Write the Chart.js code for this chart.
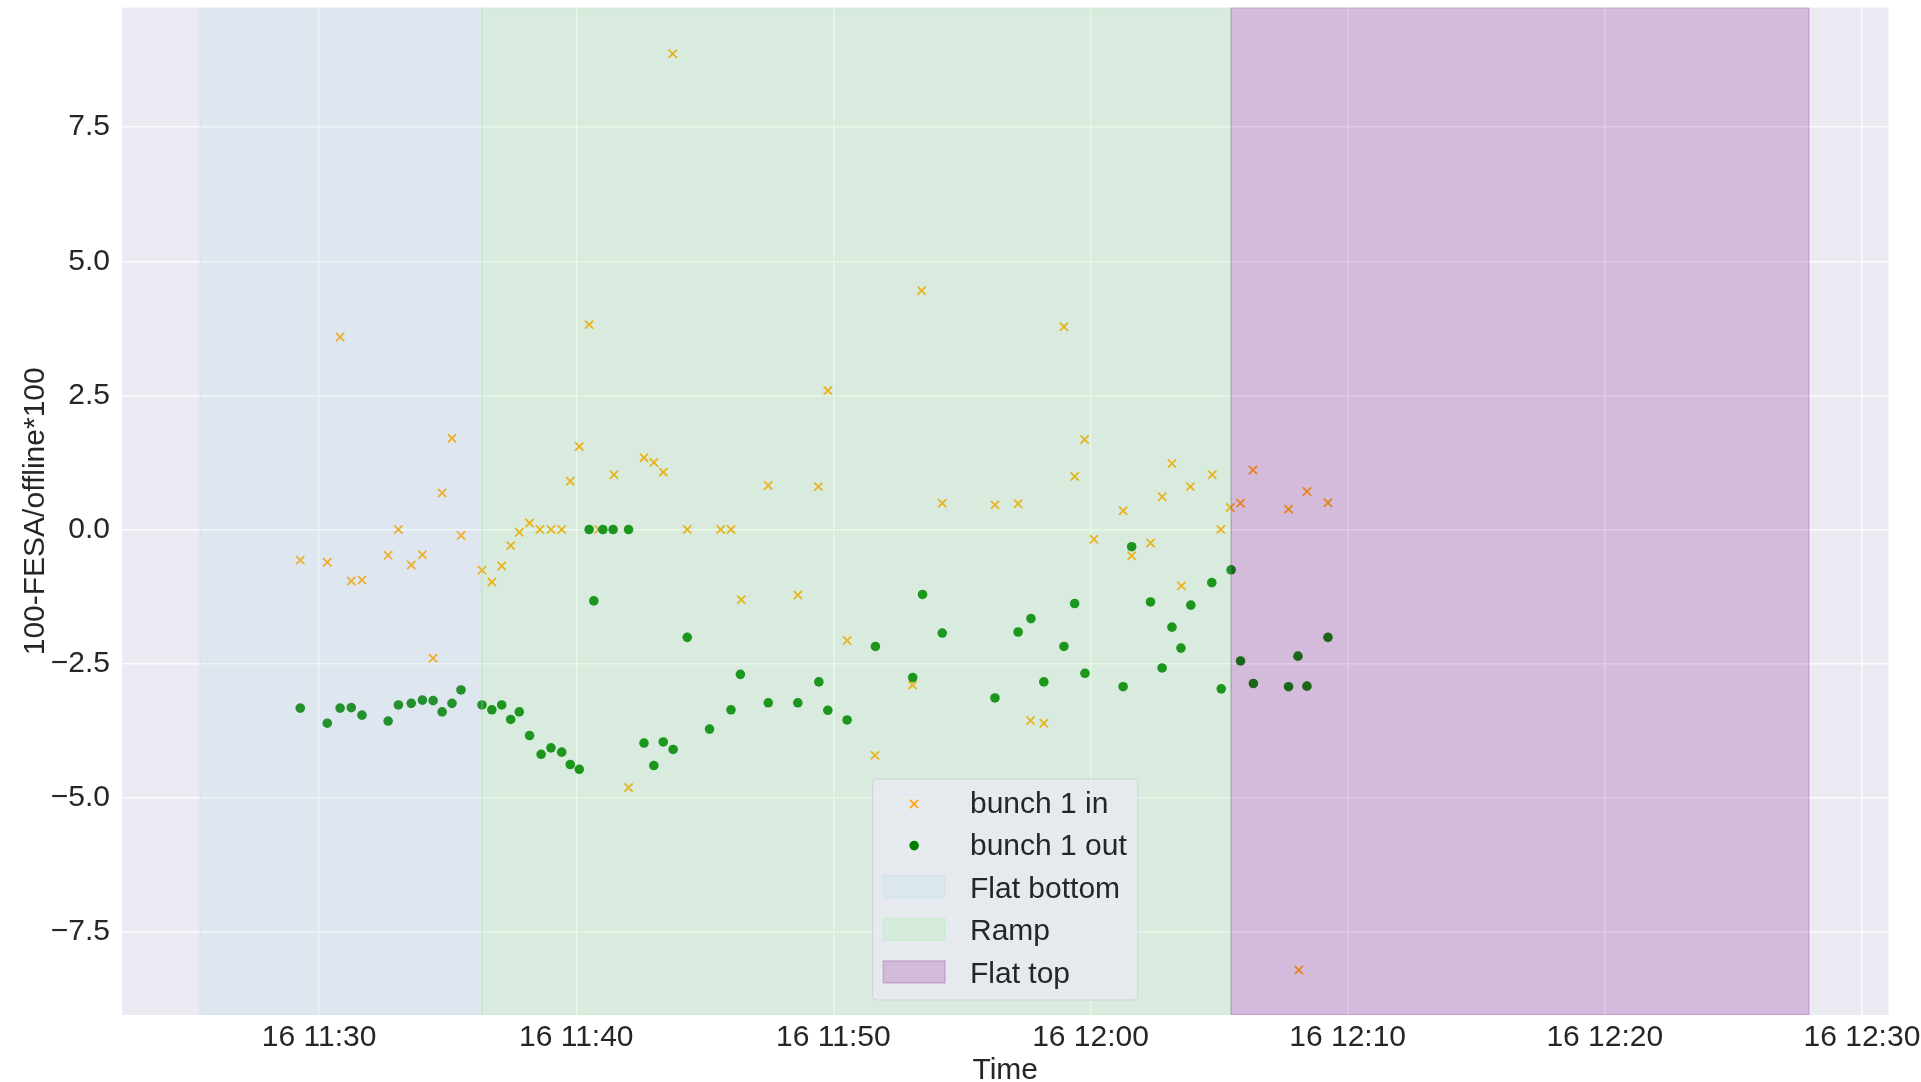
<!DOCTYPE html>
<html>
<head>
<meta charset="utf-8">
<title>100-FESA/offline*100</title>
<script src="https://cdn.jsdelivr.net/npm/chart.js@4/dist/chart.umd.min.js"></script>
<style>
  html, body { margin: 0; padding: 0; background: #ffffff; }
  canvas { display: block; }
</style>
</head>
<body>
<canvas id="chart" width="1921" height="1082"></canvas>
<script>
// ---- data -------------------------------------------------------------
const inTimes = [
  '11:29:16','11:30:19','11:30:49','11:31:15','11:31:40','11:32:41','11:33:05','11:33:35',
  '11:34:01','11:34:26','11:34:47','11:35:10','11:35:31','11:36:20','11:36:43','11:37:06',
  '11:37:27','11:37:47','11:38:11','11:38:35','11:39:01','11:39:26','11:39:46','11:40:07',
  '11:40:30','11:40:52','11:41:28','11:42:02','11:42:38','11:43:01','11:43:23','11:43:45',
  '11:44:19','11:45:37','11:46:01','11:46:25','11:47:28','11:48:37','11:49:25','11:49:47',
  '11:50:32','11:51:37','11:53:05','11:53:26','11:54:14','11:56:17','11:57:11','11:57:40',
  '11:58:11','11:58:58','11:59:23','11:59:46','12:00:08','12:01:16','12:01:36','12:02:20',
  '12:02:47','12:03:10','12:03:32','12:03:53','12:04:44','12:05:04','12:05:26','12:05:50',
  '12:06:19','12:07:42','12:08:06','12:08:25','12:09:14'
];
const inValues = [
  -0.57, -0.61, 3.59, -0.96, -0.94, -0.48, 0.00, -0.66,
  -0.47, -2.40, 0.68, 1.70, -0.11, -0.76, -0.98, -0.68,
  -0.30, -0.05, 0.12, 0.00, 0.00, 0.00, 0.90, 1.55,
  3.82, 0.00, 1.02, -4.81, 1.34, 1.25, 1.07, 8.87,
  0.00, 0.00, 0.00, -1.31, 0.82, -1.22, 0.80, 2.59,
  -2.07, -4.21, -2.90, 4.45, 0.49, 0.46, 0.48, -3.56,
  -3.61, 3.78, 0.99, 1.68, -0.18, 0.35, -0.49, -0.25,
  0.61, 1.23, -1.05, 0.80, 1.02, 0.00, 0.41, 0.49,
  1.11, 0.38, -8.21, 0.71, 0.50
];

const outTimes = [
  '11:29:16','11:30:19','11:30:49','11:31:15','11:31:40','11:32:41','11:33:05','11:33:35',
  '11:34:01','11:34:26','11:34:47','11:35:10','11:35:31','11:36:20','11:36:43','11:37:06',
  '11:37:27','11:37:47','11:38:11','11:38:38','11:39:01','11:39:26','11:39:46','11:40:07',
  '11:40:30','11:40:41','11:41:02','11:41:26','11:42:02','11:42:38','11:43:01','11:43:23',
  '11:43:46','11:44:19','11:45:11','11:46:01','11:46:23','11:47:28','11:48:37','11:49:26',
  '11:49:47','11:50:32','11:51:38','11:53:05','11:53:28','11:54:14','11:56:17','11:57:11',
  '11:57:41','11:58:11','11:58:58','11:59:23','11:59:47','12:01:16','12:01:36','12:02:20',
  '12:02:47','12:03:10','12:03:31','12:03:54','12:04:43','12:05:05','12:05:28','12:05:50',
  '12:06:20','12:07:42','12:08:04','12:08:25','12:09:14'
];
const outValues = [
  -3.33, -3.61, -3.33, -3.32, -3.46, -3.57, -3.27, -3.24,
  -3.18, -3.19, -3.40, -3.24, -2.99, -3.27, -3.36, -3.27,
  -3.54, -3.40, -3.84, -4.19, -4.07, -4.15, -4.38, -4.47,
  0.00, -1.33, 0.00, 0.00, 0.00, -3.98, -4.40, -3.96,
  -4.10, -2.01, -3.72, -3.36, -2.70, -3.23, -3.23, -2.84,
  -3.37, -3.55, -2.18, -2.76, -1.21, -1.93, -3.14, -1.91,
  -1.66, -2.84, -2.18, -1.38, -2.68, -2.93, -0.32, -1.35,
  -2.58, -1.82, -2.21, -1.41, -0.99, -2.97, -0.75, -2.45,
  -2.87, -2.93, -2.36, -2.92, -2.01
];

// machine cycle phases
const phaseNames  = ['Flat bottom', 'Ramp', 'Flat top'];
const phaseStarts = ['11:25:22', '11:36:20', '12:05:28'];
const phaseEnds   = ['11:36:20', '12:05:28', '12:27:56'];

// axes
const xTickTimes  = ['11:30', '11:40', '11:50', '12:00', '12:10', '12:20', '12:30'];
const xTickLabels = ['16 11:30', '16 11:40', '16 11:50', '16 12:00', '16 12:10', '16 12:20', '16 12:30'];
const xRange = ['11:22:20', '12:31:02'];
const yTicks = [-7.5, -5.0, -2.5, 0.0, 2.5, 5.0, 7.5];
const yRange = [-9.05, 9.73];

// ---- styles -----------------------------------------------------------
const phaseColors = ['rgba(173,216,230,0.2)', 'rgba(144,238,144,0.2)', 'rgba(128,0,128,0.2)'];
const inColor = 'rgb(255,165,0)';
const outColor = 'rgb(0,128,0)';
const textColor = '#262626';
const FONT = "'Liberation Sans', Arial, Helvetica, sans-serif";

// "HH:MM[:SS]" -> minutes since midnight
function toMin(t) {
  const p = t.split(':').map(Number);
  return p[0] * 60 + p[1] + (p[2] || 0) / 60;
}

// grey plotting surface behind the grid
const plotBackground = {
  id: 'plotBackground',
  beforeDraw(chart) {
    const { ctx, chartArea: a } = chart;
    ctx.save();
    ctx.fillStyle = '#EAEAF2';
    ctx.fillRect(a.left, a.top, a.right - a.left, a.bottom - a.top);
    ctx.restore();
  }
};

// translucent phase bands painted over the markers
const phaseSpans = {
  id: 'phaseSpans',
  afterDatasetsDraw(chart) {
    const { ctx, chartArea: a, scales: { x } } = chart;
    ctx.save();
    ctx.beginPath();
    ctx.rect(a.left, a.top, a.right - a.left, a.bottom - a.top);
    ctx.clip();
    phaseNames.forEach((name, i) => {
      const x0 = x.getPixelForValue(toMin(phaseStarts[i]));
      const x1 = x.getPixelForValue(toMin(phaseEnds[i]));
      ctx.fillStyle = phaseColors[i];
      ctx.fillRect(x0, a.top, x1 - x0, a.bottom - a.top);
      ctx.strokeStyle = phaseColors[i];
      ctx.lineWidth = 1.5;
      ctx.strokeRect(x0, a.top, x1 - x0, a.bottom - a.top);
    });
    ctx.restore();
  }
};

function roundRect(ctx, x, y, w, h, r) {
  ctx.beginPath();
  ctx.moveTo(x + r, y);
  ctx.lineTo(x + w - r, y);
  ctx.arcTo(x + w, y, x + w, y + r, r);
  ctx.lineTo(x + w, y + h - r);
  ctx.arcTo(x + w, y + h, x + w - r, y + h, r);
  ctx.lineTo(x + r, y + h);
  ctx.arcTo(x, y + h, x, y + h - r, r);
  ctx.lineTo(x, y + r);
  ctx.arcTo(x, y, x + r, y, r);
  ctx.closePath();
}

// legend box at the lower centre of the plot
const phaseLegend = {
  id: 'phaseLegend',
  afterDraw(chart) {
    const { ctx, chartArea: a } = chart;
    const labels = chart.data.datasets.map(d => d.label).concat(phaseNames);
    ctx.save();
    ctx.font = '30px ' + FONT;
    const textW = Math.max(...labels.map(l => ctx.measureText(l).width));
    const rowH = 42.6;
    const w = 10.6 + 61.7 + 25 + textW + 11;
    const h = 221;
    const bx = (a.left + a.right) / 2 - w / 2;
    const by = a.bottom - 15 - h;

    roundRect(ctx, bx, by, w, h, 4);
    ctx.fillStyle = 'rgba(234,234,242,0.8)';
    ctx.fill();
    ctx.strokeStyle = 'rgba(204,204,204,0.8)';
    ctx.lineWidth = 1;
    ctx.stroke();

    const handleL = bx + 10.6;
    const handleC = handleL + 61.7 / 2;
    const textX = handleL + 61.7 + 25;
    labels.forEach((label, i) => {
      const base = by + 33.5 + i * rowH;
      if (i === 0) {
        const c = base - 8.5, d = 0.707 * 5.8;
        ctx.strokeStyle = inColor;
        ctx.lineWidth = 1.7;
        ctx.beginPath();
        ctx.moveTo(handleC - d, c - d); ctx.lineTo(handleC + d, c + d);
        ctx.moveTo(handleC - d, c + d); ctx.lineTo(handleC + d, c - d);
        ctx.stroke();
      } else if (i === 1) {
        ctx.fillStyle = outColor;
        ctx.beginPath();
        ctx.arc(handleC, base - 9.5, 4.8, 0, Math.PI * 2);
        ctx.fill();
      } else {
        const col = phaseColors[i - 2];
        ctx.fillStyle = col;
        ctx.fillRect(handleL, base - 22, 61.7, 22);
        ctx.strokeStyle = col;
        ctx.lineWidth = 1.5;
        ctx.strokeRect(handleL, base - 22, 61.7, 22);
      }
      ctx.fillStyle = textColor;
      ctx.textBaseline = 'alphabetic';
      ctx.textAlign = 'left';
      ctx.fillText(label, textX, base);
    });
    ctx.restore();
  }
};

Chart.defaults.font.family = FONT;
Chart.defaults.font.size = 30;
Chart.defaults.color = textColor;

new Chart(document.getElementById('chart'), {
  type: 'scatter',
  data: {
    datasets: [
      {
        label: 'bunch 1 in',
        data: inTimes.map((t, i) => ({ x: toMin(t), y: inValues[i] })),
        pointStyle: 'crossRot',
        pointRadius: 5.8,
        borderColor: inColor,
        backgroundColor: inColor,
        borderWidth: 1.8,
        order: 2
      },
      {
        label: 'bunch 1 out',
        data: outTimes.map((t, i) => ({ x: toMin(t), y: outValues[i] })),
        pointStyle: 'circle',
        pointRadius: 4.8,
        backgroundColor: outColor,
        borderColor: outColor,
        borderWidth: 0,
        order: 1
      }
    ]
  },
  options: {
    responsive: false,
    devicePixelRatio: 1,
    animation: false,
    layout: { padding: { left: 0, top: 5, right: 32.5, bottom: 0 } },
    plugins: { legend: { display: false }, tooltip: { enabled: false } },
    scales: {
      x: {
        type: 'linear',
        min: toMin(xRange[0]),
        max: toMin(xRange[1]),
        afterBuildTicks: s => { s.ticks = xTickTimes.map(t => ({ value: toMin(t) })); },
        afterFit: s => { s.height = 67; s.paddingLeft = 0; s.paddingRight = 0; },
        ticks: {
          padding: 5,
          autoSkip: false,
          maxRotation: 0,
          callback: (v, i) => xTickLabels[i]
        },
        grid: { color: 'rgba(255,255,255,0.85)', lineWidth: 1.4, drawTicks: false },
        border: { display: false },
        title: { display: true, text: 'Time', padding: { top: 0, bottom: -7 } }
      },
      y: {
        type: 'linear',
        min: yRange[0],
        max: yRange[1],
        afterBuildTicks: s => { s.ticks = yTicks.map(v => ({ value: v })); },
        afterFit: s => { s.width = 122; s.paddingTop = 0; s.paddingBottom = 0; },
        ticks: {
          padding: 12,
          callback: v => (v < 0 ? '\u2212' : '') + Math.abs(v).toFixed(1)
        },
        grid: { color: 'rgba(255,255,255,0.85)', lineWidth: 1.6, drawTicks: false },
        border: { display: false },
        title: { display: true, text: '100-FESA/offline*100', padding: { top: 17.7, bottom: 0 } }
      }
    }
  },
  plugins: [plotBackground, phaseSpans, phaseLegend]
});
</script>
</body>
</html>
